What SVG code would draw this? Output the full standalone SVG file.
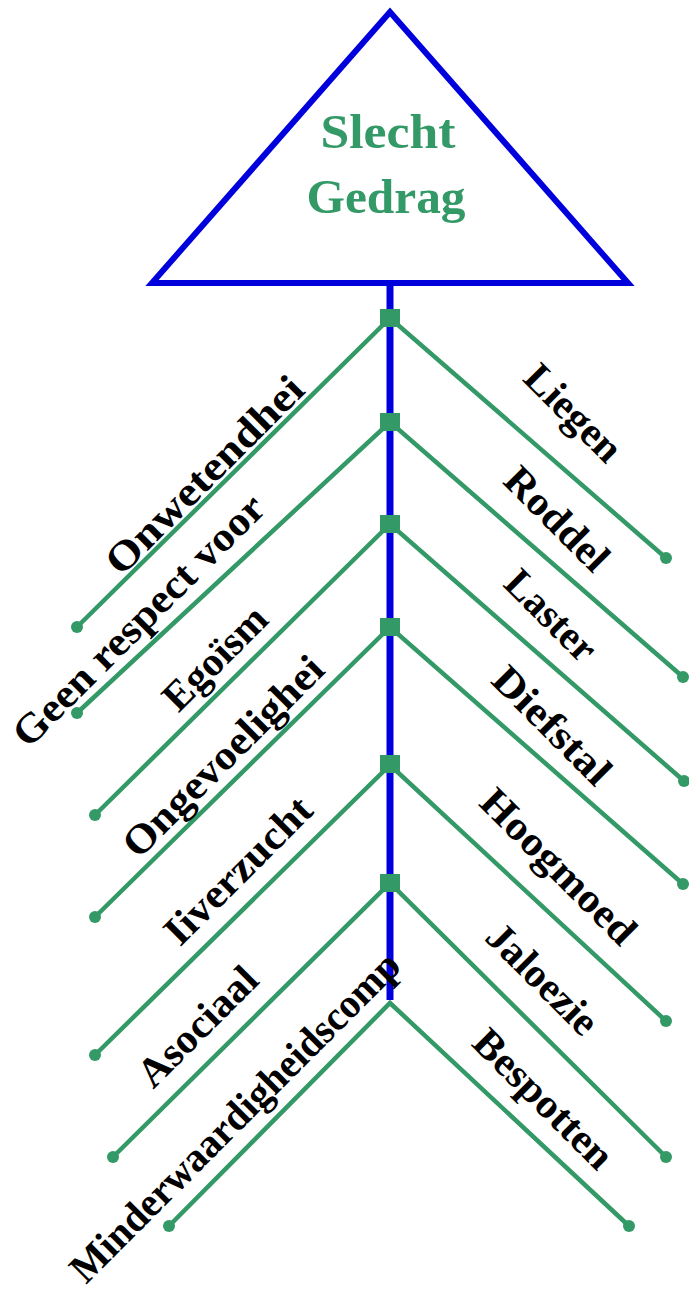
<svg xmlns="http://www.w3.org/2000/svg" width="689" height="1302" viewBox="0 0 689 1302">
<style>
.branch{fill:none;stroke:#339966;stroke-width:4.5;stroke-linejoin:miter}
.dot{fill:#339966}
.jn{fill:#339966}
.lbl{font-family:"Liberation Serif","Times New Roman",serif;font-weight:bold;font-size:41px;fill:#000}
.title{font-family:"Liberation Serif","Times New Roman",serif;font-weight:bold;font-size:48px;fill:#339966}
</style>
<rect width="689" height="1302" fill="#fff"/>
<g id="top">
<polygon points="390,12 152,283 628,283" fill="#fff" stroke="#0000dd" stroke-width="6" stroke-linejoin="miter"/>
<text class="title" x="388" y="148" text-anchor="middle" textLength="135" lengthAdjust="spacingAndGlyphs">Slecht</text>
<text class="title" x="386" y="213" text-anchor="middle" textLength="159" lengthAdjust="spacingAndGlyphs">Gedrag</text>
</g>
<g id="connectors">
<line x1="390" y1="284" x2="390" y2="1000" stroke="#0000dd" stroke-width="7"/>
<polyline class="branch" points="77,627 390,318 666,558"/>
<polyline class="branch" points="77,713 390,422 683,677"/>
<polyline class="branch" points="95,815 390,524 684,781"/>
<polyline class="branch" points="95,917 390,627 683,884"/>
<polyline class="branch" points="95,1055 390,765 666,1021"/>
<polyline class="branch" points="113,1157 390,883 666,1157"/>
<polyline class="branch" points="169,1226 390,1003 629,1226"/>
</g>
<g id="junctions">
<rect class="jn" x="380" y="309" width="20" height="18"/>
<rect class="jn" x="380" y="413" width="20" height="18"/>
<rect class="jn" x="380" y="515" width="20" height="18"/>
<rect class="jn" x="380" y="618" width="20" height="18"/>
<rect class="jn" x="380" y="755" width="20" height="18"/>
<rect class="jn" x="380" y="874" width="20" height="18"/>
</g>
<g id="ends">
<circle class="dot" cx="77" cy="627" r="6"/>
<circle class="dot" cx="77" cy="713" r="6"/>
<circle class="dot" cx="95" cy="815" r="6"/>
<circle class="dot" cx="95" cy="917" r="6"/>
<circle class="dot" cx="95" cy="1055" r="6"/>
<circle class="dot" cx="113" cy="1157" r="6"/>
<circle class="dot" cx="169" cy="1226" r="6"/>
<circle class="dot" cx="666" cy="558" r="6"/>
<circle class="dot" cx="683" cy="677" r="6"/>
<circle class="dot" cx="684" cy="781" r="6"/>
<circle class="dot" cx="683" cy="884" r="6"/>
<circle class="dot" cx="666" cy="1021" r="6"/>
<circle class="dot" cx="666" cy="1157" r="6"/>
<circle class="dot" cx="629" cy="1226" r="6"/>
</g>
<g id="left-labels">
<g id="n-onwetendhei"><text class="lbl" x="214" y="484.5" text-anchor="middle" transform="rotate(-45 214 484.5)" textLength="262" lengthAdjust="spacingAndGlyphs">Onwetendhei</text></g>
<g id="n-geen-respect"><text class="lbl" x="148" y="630" text-anchor="middle" transform="rotate(-45 148 630)" textLength="338" lengthAdjust="spacingAndGlyphs">Geen respect voor</text></g>
<g id="n-egoism"><text class="lbl" x="224.5" y="667.5" text-anchor="middle" transform="rotate(-45 224.5 667.5)" textLength="130" lengthAdjust="spacingAndGlyphs">Egoïsm</text></g>
<g id="n-ongevoelighei"><text class="lbl" x="232.5" y="766" text-anchor="middle" transform="rotate(-45 232.5 766)" textLength="266" lengthAdjust="spacingAndGlyphs">Ongevoelighei</text></g>
<g id="n-iiverzucht"><text class="lbl" x="247.5" y="880" text-anchor="middle" transform="rotate(-45 247.5 880)" textLength="191" lengthAdjust="spacingAndGlyphs">Iiverzucht</text></g>
<g id="n-asociaal"><text class="lbl" x="207" y="1036" text-anchor="middle" transform="rotate(-45 207 1036)" textLength="152" lengthAdjust="spacingAndGlyphs">Asociaal</text></g>
<g id="n-minderwaardigheid"><text class="lbl" x="86" y="1285" transform="rotate(-45 86 1285)" textLength="448" lengthAdjust="spacingAndGlyphs">Minderwaardigheidscomp</text></g>
</g>
<g id="right-labels">
<g id="n-liegen"><text class="lbl" x="564" y="422.5" text-anchor="middle" transform="rotate(45 564 422.5)" textLength="120" lengthAdjust="spacingAndGlyphs">Liegen</text></g>
<g id="n-roddel"><text class="lbl" x="547.5" y="528.5" text-anchor="middle" transform="rotate(45 547.5 528.5)" textLength="130" lengthAdjust="spacingAndGlyphs">Roddel</text></g>
<g id="n-laster"><text class="lbl" x="541.5" y="625" text-anchor="middle" transform="rotate(45 541.5 625)" textLength="112" lengthAdjust="spacingAndGlyphs">Laster</text></g>
<g id="n-diefstal"><text class="lbl" x="542.5" y="735" text-anchor="middle" transform="rotate(45 542.5 735)" textLength="150" lengthAdjust="spacingAndGlyphs">Diefstal</text></g>
<g id="n-hoogmoed"><text class="lbl" x="549" y="876" text-anchor="middle" transform="rotate(45 549 876)" textLength="202" lengthAdjust="spacingAndGlyphs">Hoogmoed</text></g>
<g id="n-jaloezie"><text class="lbl" x="533" y="988.5" text-anchor="middle" transform="rotate(45 533 988.5)" textLength="140" lengthAdjust="spacingAndGlyphs">Jaloezie</text></g>
<g id="n-bespotten"><text class="lbl" x="534" y="1108.5" text-anchor="middle" transform="rotate(45 534 1108.5)" textLength="180" lengthAdjust="spacingAndGlyphs">Bespotten</text></g>
</g>
</svg>
